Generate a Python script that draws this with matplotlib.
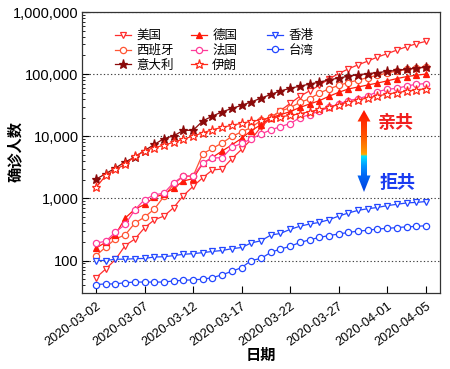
import matplotlib
matplotlib.use("Agg")
import matplotlib.pyplot as plt
import numpy as np
import pandas as pd
from matplotlib.colors import LinearSegmentedColormap
from matplotlib.patches import Polygon
from matplotlib.ticker import FixedLocator, FuncFormatter, LogLocator, NullFormatter

plt.rcParams['font.family'] = ['Liberation Sans', 'Noto Sans CJK SC', 'DejaVu Sans']

dates = pd.date_range('2020-03-02', '2020-04-05', freq='D')

us = [53, 73, 104, 174, 222, 337, 451, 519, 711, 1109, 1561, 2157, 2870, 2968, 4360,
      6141, 8914, 14153, 19479, 25818, 33756, 43845, 53740, 65778, 83836, 101657,
      121465, 140909, 161831, 188172, 213242, 243622, 275367, 308650, 336802]
spain = [120, 165, 222, 259, 400, 500, 673, 1073, 1695, 2277, 2277, 5232, 6391, 7798,
         9942, 11748, 13910, 17963, 20410, 25374, 28768, 35136, 39885, 49515, 57786,
         65719, 73235, 80110, 87956, 95923, 104118, 112065, 119199, 126168, 131646]
italy = [2036, 2502, 3089, 3858, 4636, 5883, 7375, 9172, 10149, 12462, 12462, 17660,
         21157, 24747, 27980, 31506, 35713, 41035, 47021, 53578, 59138, 63927, 69176,
         74386, 80589, 86498, 92472, 97689, 101739, 105792, 110574, 115242, 119827,
         124632, 128948]
germany = [159, 196, 262, 482, 670, 799, 1040, 1176, 1457, 1908, 2078, 3675, 4585, 5795,
           7272, 9257, 12327, 15320, 19848, 22213, 24873, 29056, 32986, 37323, 43938,
           50871, 57695, 62095, 66885, 71808, 77872, 84794, 91159, 96092, 100123]
france = [191, 204, 288, 380, 656, 957, 1134, 1217, 1792, 2290, 2290, 3672, 4480, 4513,
          6650, 7652, 9043, 10871, 12612, 14282, 16018, 19856, 22304, 25233, 29155,
          32964, 37575, 40174, 44550, 52128, 56989, 59105, 64338, 68605, 70478]
iran = [1501, 2336, 2922, 3513, 4747, 5823, 6566, 7161, 8042, 9000, 10075, 11364, 12729,
        13938, 14991, 16169, 17361, 18407, 19644, 20610, 21638, 23049, 24811, 27017,
        29406, 32332, 35408, 38309, 41495, 44605, 47593, 50468, 53183, 55743, 58226]
hongkong = [100, 100, 105, 105, 107, 108, 114, 115, 120, 126, 129, 134, 140, 145, 155,
            162, 192, 208, 256, 273, 317, 356, 386, 410, 453, 518, 582, 641, 682, 714,
            765, 802, 845, 862, 890]
taiwan = [41, 42, 42, 44, 45, 45, 45, 45, 47, 48, 49, 50, 53, 59, 67, 77, 100, 108, 135,
          153, 169, 195, 215, 235, 252, 267, 283, 298, 306, 322, 329, 339, 348, 355, 363]

tick_labels = ['2020-03-02', '2020-03-07', '2020-03-12', '2020-03-17', '2020-03-22',
               '2020-03-27', '2020-04-01', '2020-04-05']
y_ticks = [100, 1000, 10000, 100000, 1000000]

W, H = 450, 369
fig = plt.figure(figsize=(W / 100, H / 100), dpi=100)
ax = fig.add_axes([82 / W, 1 - 293 / H, 358 / W, 281 / H])

styles = [
    ('美国', us, dict(color='#FF2D2D', marker='v', mfc='white', ms=4.5)),
    ('西班牙', spain, dict(color='#FF5533', marker='o', mfc='white', ms=4.5)),
    ('意大利', italy, dict(color='#8B0A0A', marker='*', mfc='#8B0A0A', ms=6.5)),
    ('德国', germany, dict(color='#FF1A0A', marker='^', mfc='#FF1A0A', ms=4.5)),
    ('法国', france, dict(color='#FF3C9A', marker='o', mfc='white', ms=4.5)),
    ('伊朗', iran, dict(color='#FF2A1A', marker='*', mfc='white', ms=6.5)),
    ('香港', hongkong, dict(color='#2347FF', marker='v', mfc='white', ms=4.5)),
    ('台湾', taiwan, dict(color='#2347FF', marker='o', mfc='white', ms=4.5)),
]
handles = []
for name, vals, st in styles:
    h, = ax.plot(dates, vals, label=name, lw=0.9, mew=0.9, **st)
    handles.append(h)

ax.set_yscale('log')
ax.set_ylim(30, 1e6)
ax.set_xlim(dates[0] - pd.Timedelta(days=1.45), dates[-1] + pd.Timedelta(days=1.45))
ax.yaxis.set_major_locator(FixedLocator(y_ticks))
ax.yaxis.set_major_formatter(FuncFormatter(lambda v, p: f'{int(v):,}'))
ax.yaxis.set_minor_locator(LogLocator(base=10, subs=np.arange(2, 10)))
ax.yaxis.set_minor_formatter(NullFormatter())
ax.set_xticks(pd.to_datetime(tick_labels))
ax.set_xticklabels(tick_labels, rotation=36, ha='right', va='top',
                   rotation_mode='anchor', fontsize=9.2)
ax.tick_params(axis='y', which='major', direction='in', length=5, width=0.8,
               labelsize=10.5, pad=2.5)
ax.tick_params(axis='y', which='minor', direction='in', length=2.5, width=0.6)
ax.tick_params(axis='x', which='major', direction='in', length=5, width=0.8, pad=5)
ax.tick_params(axis='x', which='minor', bottom=False)
ax.yaxis.grid(True, which='major', linestyle=(0, (1.2, 2)), color='#444444', lw=0.8)
for sp in ax.spines.values():
    sp.set_color('#333333')
    sp.set_linewidth(0.9)

ax.set_ylabel('确诊人数', fontsize=11, fontweight='bold')
ax.yaxis.set_label_coords(-0.165, 0.505)
ax.set_xlabel('日期', fontsize=11, fontweight='bold')
ax.xaxis.set_label_coords(0.5, -0.199)

# legends in three columns
col_x = [(115 - 82) / 358, (191 - 82) / 358, (267 - 82) / 358]
groups = [handles[0:3], handles[3:6], handles[6:8]]
top_y = (293 - 30) / 281
legs = []
for cx, grp in zip(col_x, groups):
    lg = ax.legend(handles=grp, loc='upper left', bbox_to_anchor=(cx, top_y),
                   frameon=False, fontsize=9, borderpad=0, borderaxespad=0,
                   handlelength=1.25, handletextpad=0.45, labelspacing=0.22)
    legs.append(lg)
for lg in legs[:-1]:
    ax.add_artist(lg)

# gradient double arrow (overlay in pixel coordinates)
ov = fig.add_axes([0, 0, 1, 1], zorder=5)
ov.set_xlim(0, W)
ov.set_ylim(H, 0)
ov.axis('off')
cx = 364
poly = [(cx, 110), (cx + 6.5, 121.5), (cx + 3, 121.5), (cx + 3, 175.5), (cx + 6.5, 175.5),
        (cx, 192), (cx - 6.5, 175.5), (cx - 3, 175.5), (cx - 3, 121.5), (cx - 6.5, 121.5)]
patch = Polygon(poly, closed=True, facecolor='none', edgecolor='none')
ov.add_patch(patch)
cmap = LinearSegmentedColormap.from_list('grad', [
    (0.0, '#FF1000'), (0.3, '#FF5000'), (0.52, '#FF9A00'), (0.545, '#FFB000'),
    (0.56, '#00E8FF'), (0.68, '#0098FF'), (0.8, '#0066F5'), (1.0, '#0040E0')])
grad = np.linspace(0, 1, 200).reshape(-1, 1)
im = ov.imshow(grad, cmap=cmap, extent=(cx - 7, cx + 7, 192, 110), aspect='auto',
               interpolation='bilinear')
im.set_clip_path(patch)
ov.set_xlim(0, W)
ov.set_ylim(H, 0)
ov.text(378, 123, '亲共', color='#F01E1E', fontsize=13, fontweight='bold',
        ha='left', va='center')
ov.text(380, 183, '拒共', color='#1A3CF0', fontsize=13, fontweight='bold',
        ha='left', va='center')

fig.savefig('out.png', dpi=100)
